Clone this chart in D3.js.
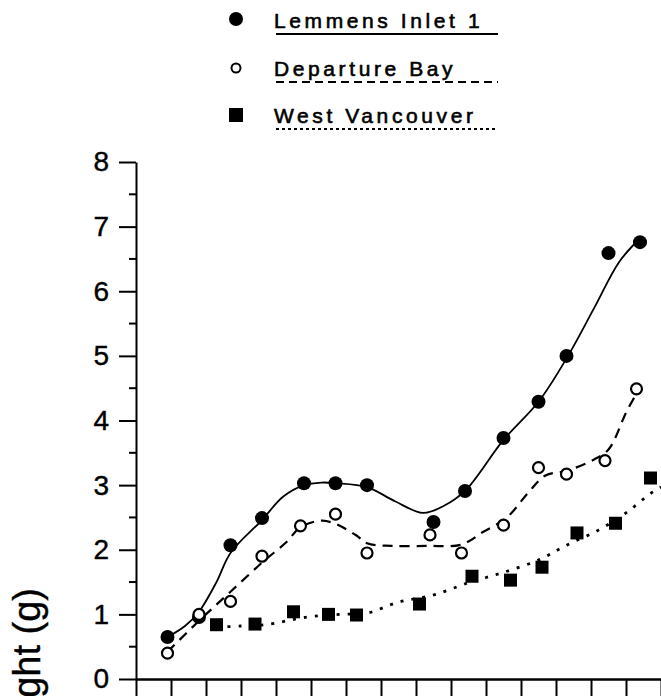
<!DOCTYPE html>
<html>
<head>
<meta charset="utf-8">
<script src="https://cdn.jsdelivr.net/npm/d3@7"></script>
<style>
  body { margin: 0; background: #fff; }
  svg { display: block; }
</style>
</head>
<body>
<div id="chart"></div>
<script>
// sample days (x units: one tick = 10)
const lemmensX = [9, 18, 27, 36, 48, 57, 66, 85, 94, 105, 115, 123, 135, 144];
const lemmensY = [0.65, 0.96, 2.07, 2.49, 3.03, 3.03, 3.0, 2.43, 2.91, 3.73, 4.29, 5.0, 6.59, 6.76];

const departureX = [9, 18, 27, 36, 47, 57, 66, 84, 93, 105, 115, 123, 134, 143];
const departureY = [0.40, 1.0, 1.2, 1.9, 2.37, 2.55, 1.95, 2.23, 1.95, 2.38, 3.27, 3.17, 3.38, 4.49];

const westX = [23, 34, 45, 55, 63, 81, 96, 107, 116, 126, 137, 147];
const westY = [0.84, 0.85, 1.04, 1.0, 0.99, 1.16, 1.59, 1.53, 1.73, 2.26, 2.41, 3.11];

// fitted curves as drawn on the original
const lemmensFitX = [9, 14, 18, 23, 27, 36, 42, 48, 53, 57, 66, 74, 82, 88, 94, 105, 115, 123, 131, 138, 144];
const lemmensFitY = [0.65, 0.82, 1.04, 1.5, 1.95, 2.46, 2.82, 3.0, 3.04, 3.03, 2.97, 2.75, 2.57, 2.68, 2.91, 3.70, 4.29, 4.96, 5.75, 6.45, 6.82];

const departureFitX = [9, 18, 27, 36, 43, 47, 53, 57, 63, 66, 73, 83, 93, 99, 106, 112, 117, 123, 131, 135, 140, 143];
const departureFitY = [0.42, 0.9, 1.35, 1.8, 2.12, 2.35, 2.45, 2.4, 2.22, 2.1, 2.06, 2.06, 2.08, 2.27, 2.5, 2.88, 3.15, 3.22, 3.4, 3.55, 4.12, 4.42];

const westFitX = [23, 30, 37, 49, 58, 66, 75, 85, 95, 105, 115, 123, 132, 140, 147, 150];
const westFitY = [0.80, 0.82, 0.84, 0.96, 1.0, 1.02, 1.19, 1.30, 1.49, 1.65, 1.84, 2.07, 2.30, 2.57, 2.87, 2.97];

const legendLabels = ['Lemmens Inlet 1', 'Departure Bay', 'West Vancouver'];
const yTicks = [0, 1, 2, 3, 4, 5, 6, 7, 8];
const xTicks = d3.range(0, 151, 10);

const width = 661;
const height = 696;

const svg = d3.select('#chart')
  .append('svg')
  .attr('width', width)
  .attr('height', height)
  .style('background', '#fff');

const x = d3.scaleLinear().domain([0, 150]).range([136, 661]);
const y = d3.scaleLinear().domain([0, 8]).range([679, 162]);

const font = "'Liberation Sans', Arial, sans-serif";

// y axis
const yAxis = d3.axisLeft(y)
  .tickValues(yTicks)
  .tickSize(17)
  .tickSizeOuter(0)
  .tickPadding(10)
  .tickFormat(d3.format('d'));

const gy = svg.append('g')
  .attr('transform', `translate(${x(0)},0)`)
  .call(yAxis);
gy.select('.domain').attr('stroke-width', 2);
gy.selectAll('.tick line').attr('stroke-width', 2);
gy.selectAll('.tick text')
  .attr('font-family', font)
  .attr('font-size', 28)
  .attr('fill', '#000')
  .attr('stroke', '#000')
  .attr('stroke-width', 0.4);

// minor ticks
svg.append('g')
  .selectAll('line')
  .data(d3.range(0.5, 8, 1))
  .join('line')
  .attr('x1', x(0) - 7)
  .attr('x2', x(0))
  .attr('y1', (d) => y(d))
  .attr('y2', (d) => y(d))
  .attr('stroke', '#000')
  .attr('stroke-width', 2);

// x axis
const xAxis = d3.axisBottom(x)
  .tickValues(xTicks)
  .tickSize(20)
  .tickSizeOuter(0)
  .tickFormat('');

const gx = svg.append('g')
  .attr('transform', `translate(0,${y(0)})`)
  .call(xAxis);
gx.select('.domain').attr('stroke-width', 2.5);
gx.selectAll('.tick line').attr('stroke-width', 2);

// y label (cut off by the frame, as in the original)
svg.append('text')
  .attr('transform', 'translate(40,588) rotate(-90)')
  .attr('text-anchor', 'end')
  .attr('font-family', font)
  .attr('font-size', 38)
  .attr('stroke', '#000')
  .attr('stroke-width', 0.4)
  .text('Weight (g)');

// fitted lines
const line = d3.line()
  .x((d) => x(d[0]))
  .y((d) => y(d[1]))
  .curve(d3.curveCatmullRom.alpha(0.5));

const fits = [
  { xs: lemmensFitX, ys: lemmensFitY, dash: null, w: 1.8 },
  { xs: departureFitX, ys: departureFitY, dash: '10,7', w: 2.2 },
  { xs: westFitX, ys: westFitY, dash: '3,8', w: 2.8 }
];

fits.forEach((f) => {
  svg.append('path')
    .datum(d3.zip(f.xs, f.ys))
    .attr('d', line)
    .attr('fill', 'none')
    .attr('stroke', '#000')
    .attr('stroke-width', f.w)
    .attr('stroke-dasharray', f.dash);
});

// points
svg.append('g')
  .selectAll('circle')
  .data(d3.zip(lemmensX, lemmensY))
  .join('circle')
  .attr('cx', (d) => x(d[0]))
  .attr('cy', (d) => y(d[1]))
  .attr('r', 7)
  .attr('fill', '#000');

svg.append('g')
  .selectAll('circle')
  .data(d3.zip(departureX, departureY))
  .join('circle')
  .attr('cx', (d) => x(d[0]))
  .attr('cy', (d) => y(d[1]))
  .attr('r', 5.5)
  .attr('fill', '#fff')
  .attr('stroke', '#000')
  .attr('stroke-width', 2.2);

svg.append('g')
  .selectAll('rect')
  .data(d3.zip(westX, westY))
  .join('rect')
  .attr('x', (d) => x(d[0]) - 6.5)
  .attr('y', (d) => y(d[1]) - 6.5)
  .attr('width', 13)
  .attr('height', 13)
  .attr('fill', '#000');

// legend
const legend = svg.append('g');
const rowY = [28, 76, 123];
const dashes = [null, '8,5', '3,3'];

legendLabels.forEach((label, i) => {
  const g = legend.append('g').attr('transform', `translate(0,${rowY[i]})`);
  if (i === 0) {
    g.append('circle').attr('cx', 236).attr('cy', -9).attr('r', 7).attr('fill', '#000');
  } else if (i === 1) {
    g.append('circle').attr('cx', 236).attr('cy', -8).attr('r', 4.5)
      .attr('fill', '#fff').attr('stroke', '#000').attr('stroke-width', 2);
  } else {
    g.append('rect').attr('x', 229).attr('y', -15).attr('width', 14).attr('height', 14).attr('fill', '#000');
  }
  g.append('text')
    .attr('x', 274)
    .attr('y', 0)
    .attr('font-family', font)
    .attr('font-size', 21)
    .attr('letter-spacing', 3.6)
    .attr('fill', '#000')
    .attr('stroke', '#000')
    .attr('stroke-width', 0.6)
    .text(label);
  g.append('line')
    .attr('x1', 276)
    .attr('x2', 498)
    .attr('y1', 6)
    .attr('y2', 6)
    .attr('stroke', '#000')
    .attr('stroke-width', 2)
    .attr('stroke-dasharray', dashes[i]);
});
</script>
</body>
</html>
